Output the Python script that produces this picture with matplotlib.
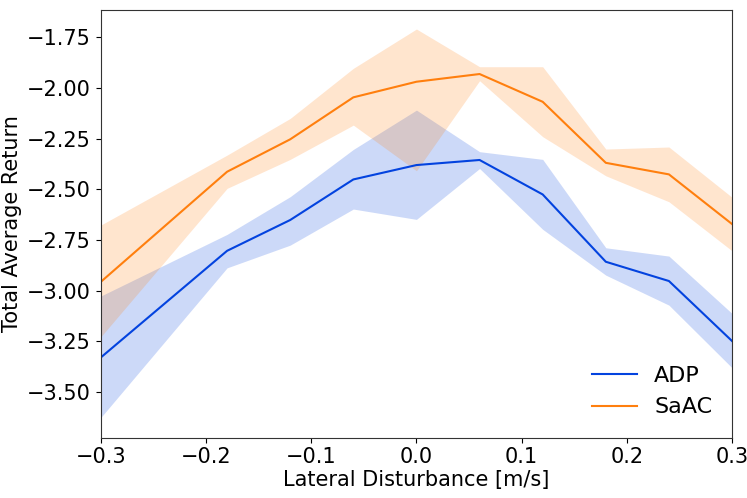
import numpy as np
from matplotlib import pyplot as plt
from matplotlib import rcParams

rcParams["font.size"] = 15

disturbance = [-0.3, -0.18, -0.12, -0.06, 0.0, 0.06, 0.12, 0.18, 0.24, 0.3]

# ADP
adp_mean = [-3.329, -2.803, -2.651, -2.451, -2.380, -2.355, -2.525, -2.857, -2.952, -3.248]
adp_upper = [-3.026, -2.722, -2.536, -2.303, -2.109, -2.314, -2.352, -2.788, -2.829, -3.112]
adp_lower = [-3.625, -2.887, -2.775, -2.597, -2.648, -2.397, -2.697, -2.923, -3.071, -3.380]

# SaAC
saac_mean = [-2.956, -2.413, -2.253, -2.046, -1.969, -1.931, -2.068, -2.369, -2.426, -2.671]
saac_upper = [-2.676, -2.331, -2.150, -1.903, -1.709, -1.895, -1.895, -2.301, -2.291, -2.539]
saac_lower = [-3.227, -2.495, -2.352, -2.183, -2.408, -1.964, -2.240, -2.433, -2.561, -2.803]

fig = plt.figure(figsize=(7.47, 4.98), dpi=100)
ax = fig.add_axes([0.135, 0.121, 0.845, 0.859])

blue = "#0343df"
orange = "#ff7f0e"

ax.fill_between(disturbance, adp_lower, adp_upper, color=blue, alpha=0.2, linewidth=0)
ax.plot(disturbance, adp_mean, color=blue, lw=1.5, label="ADP")
ax.fill_between(disturbance, saac_lower, saac_upper, color=orange, alpha=0.2, linewidth=0)
ax.plot(disturbance, saac_mean, color=orange, lw=1.5, label="SaAC")

ax.set_xlim(-0.3, 0.3)
ax.set_ylim(-3.725, -1.615)
ax.set_yticks([-3.5, -3.25, -3.0, -2.75, -2.5, -2.25, -2.0, -1.75])
ax.set_xlabel("Lateral Disturbance [m/s]", labelpad=2)
ax.set_ylabel("Total Average Return")
for s in ax.spines.values():
    s.set_color("#333333")
ax.legend(loc="lower right", frameon=False, fontsize=16, borderaxespad=0,
          bbox_to_anchor=(0.983, 0.027))

plt.savefig("out.png")
